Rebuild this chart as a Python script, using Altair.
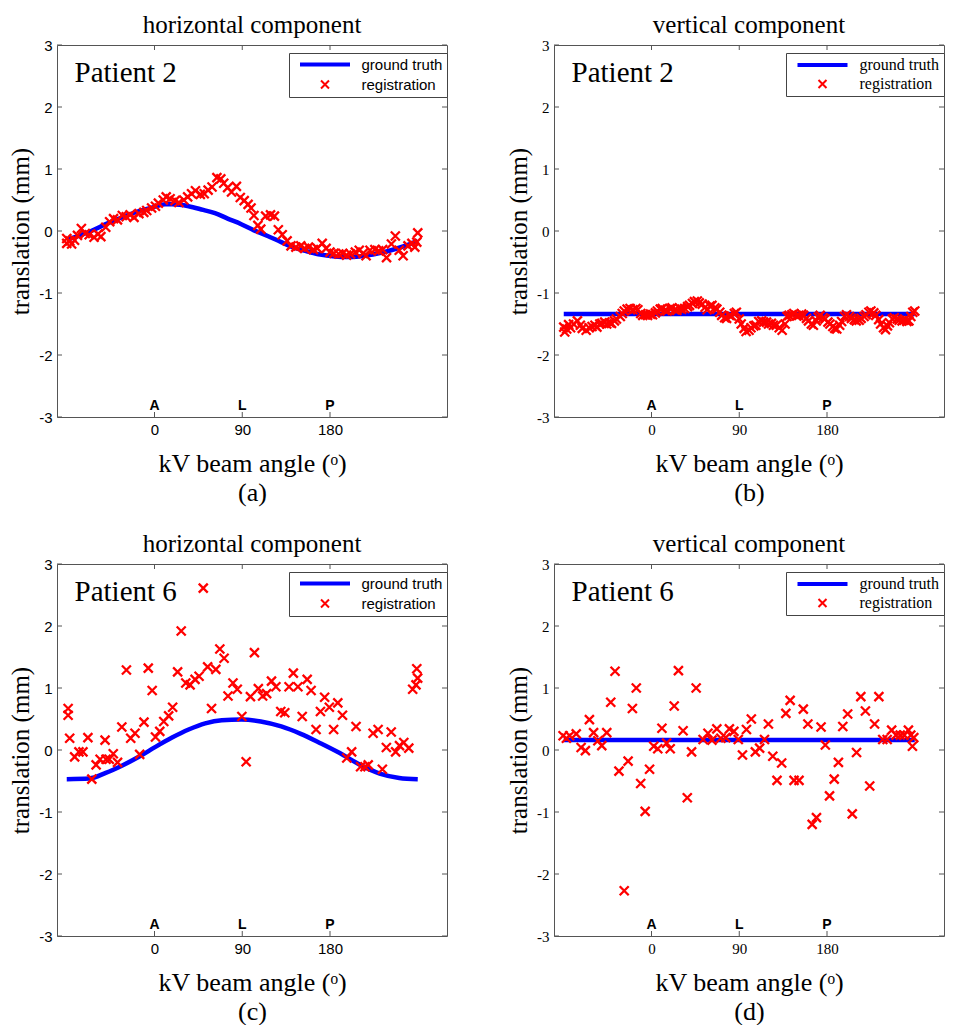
import altair as alt
import pandas as pd

SERIF = "Liberation Serif"
SANS = "Liberation Sans"
BLUE = "#0000ff"
RED = "#ff0000"
FRAME = "#555555"

# ---------------- data ----------------
x_ticks = [0, 90, 180]
x_letters = ["A", "L", "P"]
letter_y = [-3, -3, -3]
y_ticks = [-3, -2, -1, 0, 1, 2, 3]
series_names = ["ground truth", "registration"]

panel_titles = ["horizontal component", "vertical component",
                "horizontal component", "vertical component"]
patients = ["Patient 2", "Patient 2", "Patient 6", "Patient 6"]
sub_labels = ["(a)", "(b)", "(c)", "(d)"]

# ground truth curves
gt_a_x = [-90, -80, -65, -50, -35, -16, 0, 11, 18, 35, 50, 62, 75, 89, 102, 116,
          130, 143, 157, 170, 185, 197, 210, 224, 238, 251, 262, 270]
gt_a_y = [-0.14, -0.09, 0.0, 0.11, 0.21, 0.32, 0.39, 0.43, 0.43, 0.40, 0.34, 0.29,
          0.20, 0.11, 0.01, -0.08, -0.18, -0.27, -0.33, -0.38, -0.41, -0.42, -0.41,
          -0.38, -0.33, -0.27, -0.21, -0.16]
gt_b_x = [-90, 270]
gt_b_y = [-1.34, -1.34]
gt_c_x = [-90, -67, -50, -33, -16, 1, 18, 35, 52, 69, 89, 109, 130, 150, 170, 190,
          211, 231, 251, 270]
gt_c_y = [-0.47, -0.46, -0.37, -0.25, -0.11, 0.05, 0.20, 0.33, 0.43, 0.48, 0.49,
          0.46, 0.38, 0.26, 0.11, -0.05, -0.24, -0.38, -0.45, -0.47]
gt_d_x = [-90, 270]
gt_d_y = [0.16, 0.16]

# registration results (angle, translation)
reg_a = [(-90, -0.12), (-90, -0.20), (-87, -0.16), (-85, -0.21), (-82, -0.15),
         (-79, -0.07), (-75, 0.04), (-71, -0.04), (-67, -0.06), (-62, -0.10),
         (-58, -0.05), (-55, -0.09), (-50, 0.06), (-46, 0.15), (-42, 0.20),
         (-38, 0.18), (-33, 0.25), (-29, 0.23), (-25, 0.26), (-21, 0.22),
         (-16, 0.28), (-11, 0.30), (-8, 0.33), (-3, 0.37), (1, 0.40), (4, 0.45),
         (9, 0.50), (12, 0.55), (16, 0.52), (21, 0.49), (25, 0.46), (30, 0.50),
         (34, 0.55), (38, 0.60), (42, 0.65), (47, 0.59), (51, 0.60), (55, 0.66),
         (59, 0.71), (64, 0.86), (68, 0.84), (71, 0.77), (75, 0.70), (79, 0.63),
         (84, 0.72), (88, 0.54), (92, 0.49), (96, 0.43), (99, 0.37), (102, 0.25),
         (106, 0.09), (109, 0.03), (114, 0.24), (119, 0.26), (123, 0.24),
         (127, 0.02), (131, -0.06), (136, -0.16), (140, -0.24), (145, -0.26),
         (150, -0.24), (154, -0.28), (158, -0.26), (163, -0.30), (167, -0.28),
         (172, -0.20), (176, -0.28), (180, -0.34), (184, -0.36), (189, -0.37),
         (193, -0.36), (197, -0.39), (201, -0.37), (206, -0.34), (210, -0.31),
         (214, -0.36), (217, -0.40), (221, -0.31), (226, -0.30), (230, -0.32),
         (234, -0.30), (238, -0.43), (243, -0.21), (247, -0.08), (251, -0.31),
         (255, -0.40), (260, -0.24), (264, -0.20), (267, -0.26), (270, -0.03),
         (269, -0.18)]

reg_b = [(-90, -1.55), (-89, -1.63), (-87, -1.58), (-85, -1.51), (-83, -1.56),
         (-80, -1.50), (-76, -1.45), (-73, -1.52), (-71, -1.57), (-67, -1.60),
         (-64, -1.56), (-61, -1.54), (-58, -1.52), (-56, -1.55), (-53, -1.50),
         (-51, -1.49), (-48, -1.47), (-46, -1.50), (-43, -1.48), (-41, -1.49),
         (-38, -1.45), (-36, -1.42), (-32, -1.38), (-30, -1.33), (-28, -1.29),
         (-25, -1.26), (-22, -1.25), (-19, -1.27), (-16, -1.25), (-14, -1.27),
         (-11, -1.33), (-9, -1.36), (-6, -1.35), (-4, -1.36), (-1, -1.34),
         (1, -1.35), (4, -1.32), (6, -1.29), (9, -1.26), (11, -1.25), (14, -1.28),
         (16, -1.29), (19, -1.25), (21, -1.24), (24, -1.27), (26, -1.28),
         (29, -1.25), (31, -1.26), (34, -1.25), (37, -1.22), (39, -1.20),
         (42, -1.17), (44, -1.14), (47, -1.13), (49, -1.16), (52, -1.18),
         (55, -1.23), (57, -1.27), (60, -1.21), (62, -1.20), (65, -1.24),
         (67, -1.26), (70, -1.31), (72, -1.36), (75, -1.40), (77, -1.41),
         (80, -1.36), (82, -1.37), (85, -1.33), (87, -1.31), (90, -1.42),
         (92, -1.50), (95, -1.57), (97, -1.62), (100, -1.60), (102, -1.56),
         (105, -1.53), (107, -1.52), (110, -1.46), (113, -1.45), (115, -1.47),
         (118, -1.47), (120, -1.50), (123, -1.49), (125, -1.52), (128, -1.52),
         (131, -1.56), (134, -1.60), (137, -1.50), (139, -1.38), (141, -1.36),
         (144, -1.35), (146, -1.33), (149, -1.37), (151, -1.36), (154, -1.34),
         (156, -1.36), (159, -1.41), (161, -1.45), (164, -1.50), (166, -1.52),
         (169, -1.45), (171, -1.39), (173, -1.36), (176, -1.40), (178, -1.42),
         (181, -1.47), (183, -1.50), (186, -1.54), (188, -1.57), (190, -1.58),
         (193, -1.52), (195, -1.46), (198, -1.38), (200, -1.35), (203, -1.38),
         (205, -1.41), (208, -1.43), (210, -1.45), (213, -1.44), (215, -1.41),
         (218, -1.38), (220, -1.35), (223, -1.31), (225, -1.29), (228, -1.32),
         (230, -1.36), (233, -1.43), (235, -1.50), (238, -1.56), (240, -1.59),
         (242, -1.53), (244, -1.48), (247, -1.42), (249, -1.40), (252, -1.42),
         (254, -1.44), (257, -1.45), (259, -1.44), (262, -1.46), (264, -1.45),
         (266, -1.38), (268, -1.31), (270, -1.29)]

reg_c = [(50.0, 2.61), (27.4, 1.92), (-88.6, 0.67), (-88.6, 0.56), (-87, 0.19),
         (-81.9, -0.11), (-77.5, -0.03), (-73.4, -0.03), (-68.3, 0.20),
         (-64.3, -0.47), (-59.9, -0.24), (-55.8, -0.15), (-50.7, 0.16),
         (-49.7, -0.15), (-46.4, -0.15), (-42.3, -0.06), (-37.9, -0.20),
         (-33.5, 0.37), (-28.8, 1.29), (-24.4, 0.19), (-20, 0.27), (-15.2, -0.07),
         (-10.8, 0.45), (-6.4, 1.32), (-2.4, 0.96), (1.0, 0.21), (5.4, 0.30),
         (9.5, 0.46), (14.5, 0.55), (18.6, 0.69), (23.7, 1.26), (32.1, 1.08),
         (36.5, 1.05), (41.6, 1.14), (45.7, 1.19), (54.5, 1.34), (58.5, 0.67),
         (62.9, 1.30), (67, 1.63), (71.4, 1.48), (75.4, 0.87), (80.5, 1.08),
         (84.9, 0.98), (89.6, 0.54), (94, -0.19), (98.4, 0.86), (102.5, 1.57),
         (106.5, 0.99), (110.9, 0.87), (115, 0.91), (120, 1.11), (124.5, 1.02),
         (129.5, 0.62), (133.6, 0.60), (138, 1.02), (142.4, 1.24), (147.1, 1.02),
         (151.5, 0.54), (156.6, 1.14), (160.6, 0.96), (165.7, 0.33), (170.2, 0.62),
         (174.5, 0.85), (179.3, 0.69), (183.7, 0.33), (188, 0.76), (192.8, 0.56),
         (197.2, -0.13), (202.2, -0.03), (206.7, 0.38), (211.4, -0.27),
         (215.8, -0.27), (219.2, -0.24), (224.2, 0.27), (229.3, 0.33),
         (233.7, -0.31), (237.8, 0.04), (242.8, 0.29), (247.3, -0.03), (251.3, 0.07),
         (255.7, 0.12), (260.8, 0.03), (264.8, 0.98), (268.2, 1.05), (269.9, 1.16),
         (269, 1.31)]

reg_d = [(-90.7, 0.23), (-87.3, 0.19), (-83.9, 0.23), (-77.2, 0.26), (-72.2, 0.04),
         (-67.8, -0.01), (-63.7, 0.49), (-59.4, 0.28), (-55, 0.15), (-51, 0.07),
         (-45.9, 0.28), (-41.8, 0.77), (-37.4, 1.27), (-33.4, -0.34), (-28, -2.27),
         (-24, -0.18), (-19.6, 0.67), (-15.6, 1.0), (-11.1, -0.54), (-6.5, -0.99),
         (-2, -0.31), (2.3, 0.06), (6.4, 0.02), (10.7, 0.35), (15.5, 0.11),
         (19.2, 0.02), (23.3, 0.71), (27.6, 1.28), (32.4, 0.31), (36.7, -0.77),
         (41.1, -0.03), (45.8, 1.0), (52.9, 0.17), (57.9, 0.27), (62, 0.16),
         (67, 0.34), (71.1, 0.19), (76.1, 0.20), (79.9, 0.34), (84.5, 0.30),
         (89, 0.17), (93.3, -0.08), (97.4, 0.33), (102.4, 0.50), (106.5, -0.03),
         (110.9, 0.03), (115.9, 0.17), (119.9, 0.42), (124.4, -0.10), (128.7, -0.49),
         (133.5, -0.21), (137.8, 0.59), (142.2, 0.80), (146.2, -0.49), (151.3, -0.49),
         (155.7, 0.66), (160.4, 0.42), (164.8, -1.20), (169.2, -1.09), (173.9, 0.37),
         (178.3, 0.08), (182.6, -0.74), (187.4, -0.47), (191.7, -0.20), (196.2, 0.38),
         (201.2, 0.58), (205.9, -1.03), (210.3, -0.04), (214.7, 0.86), (219.4, 0.63),
         (223.8, -0.58), (228.8, 0.42), (233.2, 0.86), (237.2, 0.17), (241.7, 0.17),
         (246.3, 0.32), (250.8, 0.24), (255.1, 0.24), (259.2, 0.24), (263.5, 0.32),
         (265.9, 0.24), (267.6, 0.06), (269, 0.20)]

# ---------------- chart ----------------
W, H = 390, 372
LINE_SYMBOL = "M-6,-0.28L6,-0.28L6,0.28L-6,0.28Z"
CROSS_SYMBOL = "M-1,-1L1,1M-1,1L1,-1"


def panel(gt_x, gt_y, reg, title, patient, sub, serif_ticks):
    tick_font = SERIF if serif_ticks else SANS
    leg_font = SERIF if serif_ticks else SANS
    leg_size = 16 if serif_ticks else 15

    xs = alt.Scale(domain=[-100, 300], nice=False, zero=False)
    ys = alt.Scale(domain=[-3, 3], nice=False, zero=False)
    x_axis = alt.Axis(values=x_ticks, title=["kV beam angle (ᵒ)", sub],
                      labelFont=tick_font, labelFontSize=15, labelColor="black",
                      labelPadding=5, labelFlush=False,
                      titleFont=SERIF, titleFontSize=26, titleFontWeight="normal",
                      titleColor="black", titlePadding=13, titleLineHeight=29,
                      ticks=False, domain=False, grid=False)
    y_axis = alt.Axis(values=y_ticks, title="translation (mm)",
                      labelExpr="'' + datum.value",
                      labelFont=tick_font, labelFontSize=15, labelColor="black",
                      labelPadding=5, labelFlush=False, labelOverlap=False,
                      titleFont=SERIF, titleFontSize=25, titleFontWeight="normal",
                      titleColor="black", titlePadding=5,
                      ticks=False, domain=False, grid=False)
    X = alt.X("x:Q", scale=xs, axis=x_axis)
    Y = alt.Y("y:Q", scale=ys, axis=y_axis)

    gt_df = pd.DataFrame({"x": gt_x, "y": gt_y})
    reg_df = pd.DataFrame(reg, columns=["x", "y"])
    reg_df["series"] = "registration"

    legend = alt.Legend(orient="none", legendX=W - 158, legendY=8, title=None,
                        padding=4, strokeColor="#444444", fillColor="white",
                        labelFont=leg_font, labelFontSize=leg_size,
                        labelColor="black", symbolSize=64, symbolStrokeWidth=2,
                        symbolOffset=24.5, labelOffset=29, rowPadding=3)

    line = alt.Chart(gt_df).mark_line(color=BLUE, strokeWidth=4.5,
                                      interpolate="monotone").encode(x=X, y=Y)
    pts = alt.Chart(reg_df).mark_point(filled=False, size=81, strokeWidth=2.3,
                                       opacity=1).encode(
        x=X, y=Y,
        color=alt.Color("series:N",
                        scale=alt.Scale(domain=series_names, range=[BLUE, RED]),
                        legend=legend),
        shape=alt.Shape("series:N",
                        scale=alt.Scale(domain=series_names,
                                        range=[LINE_SYMBOL, CROSS_SYMBOL]),
                        legend=legend),
    )

    let_df = pd.DataFrame({"x": x_ticks, "y": letter_y, "lab": x_letters})
    letters = alt.Chart(let_df).mark_text(font=SANS, fontWeight="bold",
                                          fontSize=14, baseline="alphabetic",
                                          align="center", dy=-7,
                                          color="black").encode(
        x=X, y=Y, text="lab:N")

    pat_df = pd.DataFrame({"x": [-82], "y": [2.4], "lab": [patient]})
    pat = alt.Chart(pat_df).mark_text(font=SERIF, fontSize=29, align="left",
                                      baseline="alphabetic",
                                      color="black").encode(x=X, y=Y, text="lab:N")

    xt_df = pd.DataFrame({"x": x_ticks})
    yt_df = pd.DataFrame({"y": y_ticks})
    tb = alt.Chart(xt_df).mark_rule(color=FRAME, strokeWidth=1).encode(
        x=X, y=alt.value(H), y2=alt.value(H - 5))
    tt = alt.Chart(xt_df).mark_rule(color=FRAME, strokeWidth=1).encode(
        x=X, y=alt.value(0), y2=alt.value(5))
    tl = alt.Chart(yt_df).mark_rule(color=FRAME, strokeWidth=1).encode(
        y=Y, x=alt.value(0), x2=alt.value(5))
    tr = alt.Chart(yt_df).mark_rule(color=FRAME, strokeWidth=1).encode(
        y=Y, x=alt.value(W), x2=alt.value(W - 5))

    return alt.layer(line, pts, letters, pat, tb, tt, tl, tr).properties(
        width=W, height=H,
        title=alt.Title(title, font=SERIF, fontSize=25, fontWeight="normal",
                        color="black", offset=0, anchor="middle"))


pa = panel(gt_a_x, gt_a_y, reg_a, panel_titles[0], patients[0], sub_labels[0], False)
pb = panel(gt_b_x, gt_b_y, reg_b, panel_titles[1], patients[1], sub_labels[1], True)
pc = panel(gt_c_x, gt_c_y, reg_c, panel_titles[2], patients[2], sub_labels[2], False)
pd_ = panel(gt_d_x, gt_d_y, reg_d, panel_titles[3], patients[3], sub_labels[3], True)

chart = alt.concat(pa, pb, pc, pd_, columns=2,
                   spacing={"row": 25, "column": 58}).resolve_scale(
    color="independent", shape="independent").resolve_legend(
    color="independent", shape="independent").configure(
    padding={"left": 0, "top": 4, "right": 0, "bottom": 0},
    background="white").configure_view(stroke=FRAME, strokeWidth=1)

chart.save("out.html", embed_options={"renderer": "svg", "actions": False})
